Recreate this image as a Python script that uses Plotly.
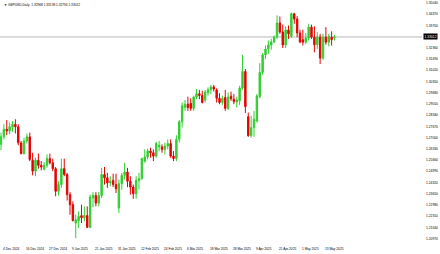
import plotly.graph_objects as go

# ---- data (GBPUSD daily) ----
opens = [1.2660,1.2705,1.2750,1.2740,1.2762,1.2780,1.2765,1.2668,1.2605,1.2680,
         1.2705,1.2565,1.2500,1.2565,1.2535,1.2512,1.2535,1.2575,1.2550,1.2515,
         1.2380,1.2420,1.2515,1.2480,1.2360,1.2300,1.2190,1.2205,1.2235,1.2222,
         1.2235,1.2165,1.2340,1.2355,1.2310,1.2355,1.2480,1.2460,1.2430,1.2445,
         1.2420,1.2280,1.2425,1.2475,1.2495,1.2440,1.2405,1.2365,1.2445,1.2455,
         1.2560,1.2585,1.2620,1.2610,1.2590,1.2645,1.2645,1.2630,1.2650,1.2665,
         1.2590,1.2575,1.2690,1.2795,1.2880,1.2900,1.2905,1.2875,1.2943,1.2962,
         1.2952,1.2925,1.2968,1.2986,1.3003,1.2985,1.2935,1.2910,1.2940,1.2875,
         1.2948,1.2930,1.2913,1.2920,1.2996,1.3095,1.2825,1.2712,1.2760,1.2800,
         1.2945,1.3090,1.3194,1.3229,1.3253,1.3271,1.3301,1.3385,1.3331,1.3253,
         1.3343,1.3305,1.3440,1.3408,1.3325,1.3285,1.3270,1.3295,1.3360,1.3300,
         1.3255,1.3300,1.3175,1.3300,1.3270,1.3300,1.32968]
highs = [1.2730,1.2780,1.2805,1.2790,1.2800,1.2810,1.2780,1.2680,1.2700,1.2725,
         1.2730,1.2610,1.2580,1.2605,1.2560,1.2555,1.2600,1.2605,1.2575,1.2525,
         1.2440,1.2575,1.2575,1.2490,1.2375,1.2320,1.2240,1.2260,1.2300,1.2290,
         1.2290,1.2360,1.2375,1.2375,1.2375,1.2520,1.2525,1.2490,1.2470,1.2485,
         1.2485,1.2450,1.2490,1.2550,1.2520,1.2470,1.2420,1.2470,1.2490,1.2580,
         1.2630,1.2635,1.2640,1.2630,1.2675,1.2680,1.2660,1.2670,1.2690,1.2690,
         1.2620,1.2715,1.2805,1.2910,1.2925,1.2945,1.2935,1.2950,1.2990,1.2985,
         1.2980,1.2985,1.3000,1.3015,1.3015,1.2995,1.2965,1.2950,1.2985,1.2970,
         1.2975,1.2960,1.2945,1.3010,1.3195,1.3110,1.2850,1.2830,1.2860,1.2960,
         1.3145,1.3205,1.3250,1.3280,1.3290,1.3310,1.3430,1.3423,1.3375,1.3365,
         1.3370,1.3448,1.3445,1.3425,1.3345,1.3345,1.3325,1.3380,1.3375,1.3365,
         1.3330,1.3320,1.3320,1.3360,1.3320,1.3335,1.33138]
lows = [1.2625,1.2690,1.2715,1.2720,1.2735,1.2725,1.2655,1.2600,1.2600,1.2665,
        1.2560,1.2475,1.2470,1.2515,1.2505,1.2505,1.2520,1.2540,1.2500,1.2350,
        1.2355,1.2400,1.2470,1.2325,1.2240,1.2200,1.2100,1.2160,1.2190,1.2200,
        1.2160,1.2160,1.2285,1.2290,1.2290,1.2340,1.2420,1.2400,1.2410,1.2405,
        1.2370,1.2250,1.2390,1.2450,1.2405,1.2360,1.2335,1.2335,1.2390,1.2450,
        1.2550,1.2570,1.2580,1.2560,1.2580,1.2620,1.2610,1.2600,1.2630,1.2580,
        1.2560,1.2560,1.2670,1.2760,1.2860,1.2860,1.2860,1.2860,1.2930,1.2930,
        1.2905,1.2910,1.2950,1.2960,1.2975,1.2910,1.2900,1.2895,1.2860,1.2865,
        1.2920,1.2900,1.2880,1.2895,1.2985,1.2847,1.2705,1.2700,1.2705,1.2790,
        1.2935,1.3075,1.3170,1.3200,1.3225,1.3265,1.3290,1.3320,1.3235,1.3235,
        1.3290,1.3295,1.3380,1.3300,1.3265,1.3250,1.3260,1.3280,1.3290,1.3210,
        1.3230,1.3140,1.3165,1.3255,1.3245,1.3250,1.32794]
closes = [1.2705,1.2750,1.2740,1.2765,1.2780,1.2765,1.2670,1.2605,1.2680,1.2705,
          1.2570,1.2500,1.2565,1.2535,1.2525,1.2535,1.2575,1.2550,1.2515,1.2380,
          1.2420,1.2515,1.2480,1.2360,1.2300,1.2205,1.2210,1.2230,1.2222,1.2235,
          1.2165,1.2345,1.2355,1.2310,1.2355,1.2480,1.2460,1.2430,1.2440,1.2420,
          1.2395,1.2425,1.2475,1.2495,1.2440,1.2405,1.2365,1.2445,1.2455,1.2575,
          1.2585,1.2620,1.2610,1.2590,1.2665,1.2655,1.2630,1.2650,1.2665,1.2590,
          1.2575,1.2690,1.2795,1.2890,1.2900,1.2880,1.2875,1.2943,1.2962,1.2952,
          1.2910,1.2972,1.2986,1.3003,1.2990,1.2935,1.2910,1.2935,1.2875,1.2943,
          1.2932,1.2915,1.2925,1.2996,1.3095,1.2885,1.2712,1.2760,1.2810,1.2950,
          1.3090,1.3194,1.3229,1.3253,1.3271,1.3301,1.3385,1.3331,1.3253,1.3343,
          1.3320,1.3440,1.3408,1.3325,1.3271,1.3270,1.3295,1.3360,1.3300,1.3255,
          1.3300,1.3175,1.3300,1.3270,1.3305,1.3285,1.33012]

date_labels = ["4 Dec 2024", "16 Dec 2024", "27 Dec 2024", "9 Jan 2025", "21 Jan 2025",
               "31 Jan 2025", "12 Feb 2025", "24 Feb 2025", "6 Mar 2025", "18 Mar 2025",
               "28 Mar 2025", "9 Apr 2025", "21 Apr 2025", "1 May 2025", "13 May 2025"]
label_every = 8

price_ticks = [1.35040, 1.34370, 1.33700, 1.32360, 1.31690, 1.31020, 1.30350,
               1.29680, 1.29010, 1.28340, 1.27670, 1.27000, 1.26330, 1.25660, 1.24990,
               1.24320, 1.23650, 1.22980, 1.22310, 1.21640, 1.20970]

symbol_title = "GBPUSD,Daily  1.32968 1.33138 1.32794 1.33012"
last_price = closes[-1]

FONT = "Liberation Sans"
idx = list(range(len(opens)))

fig = go.Figure()
fig.add_trace(go.Candlestick(
    x=idx, open=opens, high=highs, low=lows, close=closes,
    increasing=dict(line=dict(color="#32cd32", width=1), fillcolor="#32cd32"),
    decreasing=dict(line=dict(color="#e60000", width=1), fillcolor="#e60000"),
    whiskerwidth=0, showlegend=False, hoverinfo="skip",
))

fig.add_shape(type="line", xref="paper", x0=0, x1=1, yref="y",
              y0=last_price, y1=last_price,
              line=dict(color="#b8b8b8", width=1), layer="below")

annotations = []
for k, lab in enumerate(date_labels):
    annotations.append(dict(x=k * label_every, xref="x", y=0, yref="paper",
                            text=lab, showarrow=False, xanchor="left", yanchor="top",
                            yshift=-2, font=dict(family=FONT, size=3.2, color="#000")))
annotations.append(dict(x=0, xref="paper", y=1, yref="paper", xshift=2, yshift=-1,
                        text="\u25bc " + symbol_title, showarrow=False,
                        xanchor="left", yanchor="top",
                        font=dict(family=FONT, size=3.2, color="#000")))
annotations.append(dict(x=1, xref="paper", y=last_price, yref="y", xshift=1,
                        text="%.5f" % last_price, showarrow=False, xanchor="left",
                        yanchor="middle", bgcolor="#000000", borderpad=0.6,
                        font=dict(family=FONT, size=3.3, color="#ffffff")))

fig.update_layout(
    width=440, height=254,
    margin=dict(l=0, r=18, t=0, b=11),
    paper_bgcolor="white", plot_bgcolor="white",
    annotations=annotations,
    xaxis=dict(range=[-0.348, 146.43], showgrid=False, zeroline=False,
               showticklabels=False, showline=False, ticks="",
               rangeslider=dict(visible=False), fixedrange=True),
    yaxis=dict(side="right", range=[1.20712, 1.35219], showgrid=False, zeroline=False,
               showline=False, ticks="", tickvals=price_ticks,
               ticktext=["%.5f" % v for v in price_ticks], ticklabelstandoff=3,
               tickfont=dict(family=FONT, size=3.3, color="#000"), fixedrange=True),
)

fig.write_html("out.html")
